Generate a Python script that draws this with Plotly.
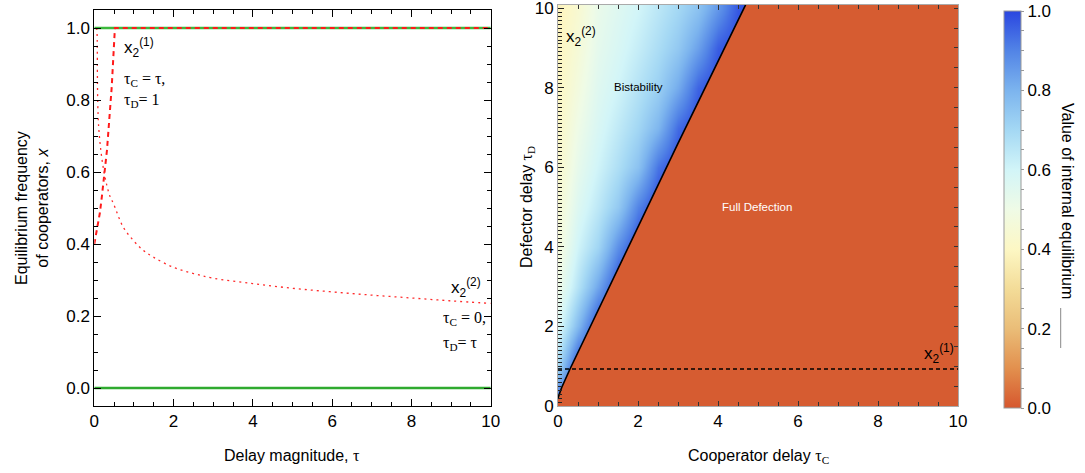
import plotly.graph_objects as go

W, H = 1085, 473

# ---------------- Left panel data ----------------
tau_line = [0, 10]
x_full_coop = [1.0, 1.0]
x_full_def = [0.0, 0.0]

# x2^(1): tau_C = tau, tau_D = 1  (dashed)
tau_dash = [0.0, 0.14, 0.19, 0.32, 0.44, 0.52, 10.0]
x2_dash = [0.40, 0.486, 0.531, 0.661, 0.837, 1.0, 1.0]

# x2^(2): tau_C = 0, tau_D = tau  (dotted)
tau_dot = [0.06, 0.07, 0.11, 0.25, 0.40, 0.48, 0.73, 1.0, 1.23, 1.5, 2.0, 2.5,
           3.0, 4.0, 5.0, 6.0, 7.0, 8.0, 9.0, 10.0]
x2_dot = [1.0, 0.985, 0.726, 0.597, 0.531, 0.513, 0.447, 0.408, 0.383, 0.363,
          0.335, 0.318, 0.305, 0.290, 0.277, 0.267, 0.258, 0.250, 0.242, 0.235]

# ---------------- Right panel data ----------------
tauC_grid = [i * 0.5 for i in range(21)]
tauD_grid = list(range(11))
# internal equilibrium values per tau_D row (cells left of the boundary)
row0 = []
row1 = [0.70]
row2 = [0.57, 0.785]
row3 = [0.50, 0.665, 0.83]
row4 = [0.46, 0.606, 0.708, 0.876]
row5 = [0.44, 0.563, 0.647, 0.742, 0.899]
row6 = [0.42, 0.53, 0.606, 0.678, 0.762, 0.925]
row7 = [0.41, 0.504, 0.578, 0.64, 0.705, 0.794, 0.94]
row8 = [0.40, 0.478, 0.556, 0.604, 0.664, 0.724, 0.82, 0.952]
row9 = [0.39, 0.457, 0.536, 0.579, 0.628, 0.683, 0.744, 0.841, 0.963]
row10 = [0.38, 0.44, 0.52, 0.56, 0.60, 0.65, 0.70, 0.76, 0.86, 0.97]
rows = [row0, row1, row2, row3, row4, row5, row6, row7, row8, row9, row10]

# boundary between bistability and full defection
bnd_tauC = [0.0, 0.09, 0.30, 1.38, 3.00, 4.65, 4.69]
bnd_tauD = [0.20, 0.46, 0.93, 3.20, 6.60, 10.0, 10.08]

# x2^(1) line (tau_D = 1)
dash_tauC = [0, 10]
dash_tauD = [0.93, 0.93]

y2_ticks = [0, 2, 4, 6, 8, 10]

colorscale = [
    [0.0, '#d6572e'], [0.1, '#e2904e'], [0.2, '#eabd78'], [0.3, '#f3dc98'],
    [0.4, '#fdf7c4'], [0.5, '#effbe6'], [0.6, '#d2f5f8'], [0.7, '#a4d8f4'],
    [0.8, '#7cb4ee'], [0.9, '#5284e6'], [1.0, '#2a46e0'],
]
orange = '#d65c31'

z = [r + [1.0] * (len(tauC_grid) - len(r)) for r in rows]

SANS = 'Liberation Sans'
SERIF = 'Liberation Serif'

fig = go.Figure()

# left panel traces
fig.add_trace(go.Scatter(x=tau_line, y=x_full_coop, mode='lines',
                         line=dict(color='#3cb93c', width=2.5), xaxis='x', yaxis='y'))
fig.add_trace(go.Scatter(x=tau_line, y=x_full_def, mode='lines',
                         line=dict(color='#2faa2f', width=2.5), xaxis='x', yaxis='y'))
fig.add_trace(go.Scatter(x=tau_dot, y=x2_dot, mode='lines',
                         line=dict(color='#ff2a2a', width=1.3, dash='2px,4px', shape='spline'),
                         xaxis='x', yaxis='y'))
fig.add_trace(go.Scatter(x=tau_dash, y=x2_dash, mode='lines',
                         line=dict(color='#ff1a1a', width=2, dash='5px,4px'),
                         xaxis='x', yaxis='y'))

# right panel traces
fig.add_trace(go.Heatmap(
    x=tauC_grid, y=tauD_grid, z=z, zmin=0, zmax=1, zsmooth='best',
    colorscale=colorscale, xaxis='x2', yaxis='y2', hoverinfo='skip',
    colorbar=dict(
        x=1004 / W, xanchor='left', y=1 - 11 / H, yanchor='top', xpad=0, ypad=0,
        lenmode='pixels', len=397, thickness=17,
        outlinewidth=1, outlinecolor='#999999',
        tickvals=[i * 0.05 for i in range(21)],
        ticktext=[('%.1f' % (i * 0.05)) if i % 4 == 0 else '' for i in range(21)],
        ticks='outside', ticklen=3, tickcolor='#999999',
        tickfont=dict(family=SANS, size=17, color='black'),
    ),
))
poly_x = [-0.5] + bnd_tauC + [bnd_tauC[-1], 10.5, 10.5, -0.5]
poly_y = [bnd_tauD[0]] + bnd_tauD + [10.5, 10.5, -0.5, -0.5]
fig.add_trace(go.Scatter(x=poly_x, y=poly_y, mode='lines', fill='toself',
                         fillcolor=orange, line=dict(width=0, color=orange),
                         xaxis='x2', yaxis='y2', hoverinfo='skip'))
fig.add_trace(go.Scatter(x=bnd_tauC, y=bnd_tauD, mode='lines',
                         line=dict(color='black', width=1.6),
                         xaxis='x2', yaxis='y2'))
fig.add_trace(go.Scatter(x=dash_tauC, y=dash_tauD, mode='lines',
                         line=dict(color='black', width=1.3, dash='4px,3px'),
                         xaxis='x2', yaxis='y2'))
fig.add_trace(go.Scatter(x=[None], y=[None], mode='lines', xaxis='x2', yaxis='y3',
                         hoverinfo='skip'))

tickfont = dict(family=SANS, size=17, color='black')

fig.update_layout(
    width=W, height=H, margin=dict(l=0, r=0, t=0, b=0, autoexpand=False),
    paper_bgcolor='white', plot_bgcolor='white', showlegend=False,
    xaxis=dict(domain=[94.3 / W, 490.7 / W], range=[0, 10], anchor='y',
               tickmode='linear', tick0=0, dtick=2, ticks='inside', ticklen=7,
               tickcolor='black', showline=True, linecolor='black', linewidth=1,
               mirror='ticks', showgrid=False, zeroline=False, tickfont=tickfont,
               minor=dict(dtick=0.5, tick0=0, ticks='inside', ticklen=4, tickcolor='black')),
    yaxis=dict(domain=[1 - 406 / H, 1 - 10 / H], range=[-0.05, 1.05], anchor='x',
               tickmode='linear', tick0=0, dtick=0.2, tickformat='.1f',
               ticks='inside', ticklen=7, tickcolor='black', showline=True,
               linecolor='black', linewidth=1, mirror='ticks', showgrid=False,
               zeroline=False, tickfont=tickfont,
               minor=dict(dtick=0.05, tick0=0, ticks='inside', ticklen=4, tickcolor='black')),
    xaxis2=dict(domain=[558 / W, 958 / W], range=[0, 10], anchor='y2',
                tickmode='linear', tick0=0, dtick=2, ticks='inside', ticklen=5,
                tickcolor='#333333', showline=True, linecolor='#aaaaaa', linewidth=1,
                mirror='ticks', showgrid=False, zeroline=False, tickfont=tickfont,
                minor=dict(dtick=0.5, tick0=0, ticks='inside', ticklen=4, tickcolor='#333333')),
    yaxis2=dict(domain=[1 - 406 / H, 1 - 5 / H], range=[0, 10.08], anchor='x2',
                tickmode='array', tickvals=y2_ticks, ticks='inside', ticklen=6,
                tickcolor='#222222', showline=True, linecolor='#aaaaaa', linewidth=1,
                showgrid=False, zeroline=False, tickfont=tickfont,
                ticklabeloverflow='allow',
                minor=dict(tickmode='linear', dtick=0.1, tick0=0, ticks='inside',
                           ticklen=4, tickcolor='#222222')),
    yaxis3=dict(overlaying='y2', anchor='x2', side='right', range=[0, 10.08],
                tickmode='linear', tick0=0, dtick=0.5, ticks='inside', ticklen=4,
                tickcolor='#333333', showticklabels=False, showline=True,
                linecolor='#aaaaaa', showgrid=False, zeroline=False),
)


def ann(text, x, y, xref='paper', yref='paper', size=16, family=SANS, color='black',
        xanchor='center', yanchor='middle', angle=0):
    fig.add_annotation(text=text, x=x, y=y, xref=xref, yref=yref, showarrow=False,
                       font=dict(family=family, size=size, color=color),
                       xanchor=xanchor, yanchor=yanchor, textangle=angle)


def tau(s):
    return '<span style="font-family:Liberation Serif">' + s + '</span>'


# axis titles
ann('Delay magnitude, ' + tau('τ'), 292 / W, 1 - 455 / H)
ann('Equilibrium frequency<br>of cooperators, <i>x</i>', 32 / W, 1 - 208 / H, angle=-90)
ann('Cooperator delay ' + tau('τ<sub>C</sub>'), 758 / W, 1 - 456 / H)
ann('Defector delay ' + tau('τ<sub>D</sub>'), 527 / W, 1 - 207 / H, angle=-90)
ann('Value of internal equilibrium', 1067 / W, 1 - 201 / H, angle=90)
fig.add_shape(type='line', xref='paper', yref='paper', x0=1060.7 / W, x1=1060.7 / W,
              y0=1 - 308 / H, y1=1 - 348 / H, line=dict(color='#888888', width=1))

# left panel labels
ann('x<sub>2</sub><sup>(1)</sup>', 0.69, 0.946, 'x', 'y', size=17, xanchor='left')
ann('τ<sub>C</sub> = τ,', 0.69, 0.856, 'x', 'y', size=16, family=SERIF, xanchor='left')
ann('τ<sub>D</sub>= 1', 0.69, 0.80, 'x', 'y', size=16, family=SERIF, xanchor='left')
ann('x<sub>2</sub><sup>(2)</sup>', 8.95, 0.28, 'x', 'y', size=17, xanchor='left')
ann('τ<sub>C</sub> = 0,', 8.74, 0.194, 'x', 'y', size=16, family=SERIF, xanchor='left')
ann('τ<sub>D</sub>= τ', 8.74, 0.125, 'x', 'y', size=16, family=SERIF, xanchor='left')

# right panel labels
ann('x<sub>2</sub><sup>(2)</sup>', 0.15, 9.28, 'x2', 'y2', size=17, xanchor='left')
ann('Bistability', 2.0, 8.03, 'x2', 'y2', size=11.5)
ann('Full Defection', 4.98, 5.0, 'x2', 'y2', size=11.5, color='white')
ann('x<sub>2</sub><sup>(1)</sup>', 9.09, 1.33, 'x2', 'y2', size=17, xanchor='left')

fig.write_html('out.html', config={'displayModeBar': False},
               post_script="document.body.style.margin='0';document.body.style.overflow='hidden';")
